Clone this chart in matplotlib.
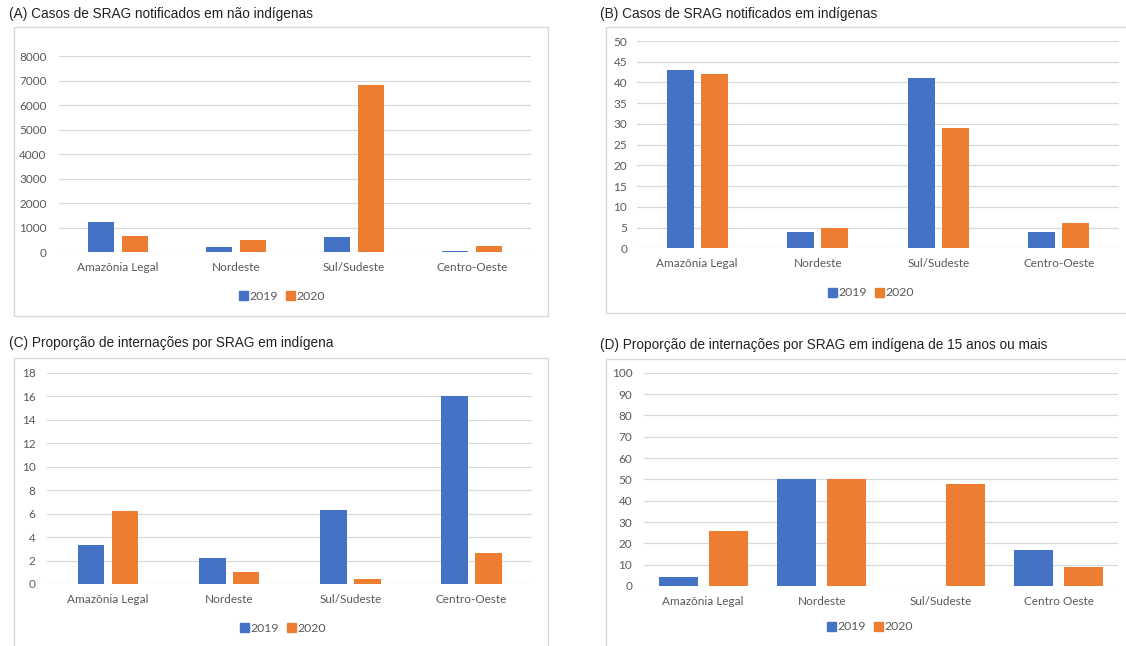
import matplotlib
matplotlib.use("Agg")
from matplotlib import pyplot as plt
from matplotlib.patches import Rectangle, Patch
import numpy as np

# dados por região
regioes = ['Amazônia Legal', 'Nordeste', 'Sul/Sudeste', 'Centro-Oeste']
regioes_d = ['Amazônia Legal', 'Nordeste', 'Sul/Sudeste', 'Centro Oeste']

nao_ind_2019 = [1230, 190, 610, 40]
nao_ind_2020 = [650, 490, 6800, 230]

ind_2019 = [43, 4, 41, 4]
ind_2020 = [42, 5, 29, 6]

intern_2019 = [3.3, 2.2, 6.3, 16.0]
intern_2020 = [6.2, 1.0, 0.4, 2.6]

intern15_2019 = [4.4, 50, 0, 17]
intern15_2020 = [26, 50, 48, 9]

anos = ['2019', '2020']

azul = '#4472C4'
laranja = '#ED7D31'
grade = '#D9D9D9'
cinza = '#595959'

W, H = 1126, 646
fig = plt.figure(figsize=(W / 100, H / 100), dpi=100)
fig.patch.set_facecolor('white')


def caixa(x0, y0, x1, y1):
    # retângulo em pixels (origem no topo)
    return [x0 / W, 1 - y1 / H, (x1 - x0) / W, (y1 - y0) / H]


def painel(titulo, tpos, moldura, area, cats, v19, v20, ymax, passo,
           largura, desloc, leg, pad_y):
    fig.text(tpos[0] / W, 1 - tpos[1] / H, titulo, family='Liberation Sans',
             fontsize=9.8, color='#222222', va='center', ha='left')
    r = caixa(*moldura)
    fig.patches.append(Rectangle((r[0], r[1]), r[2], r[3], transform=fig.transFigure,
                                 fill=False, edgecolor=grade, linewidth=1.0))
    ax = fig.add_axes(caixa(*area))
    x = np.arange(len(cats))
    ax.bar(x - desloc, v19, largura, color=azul, zorder=3)
    ax.bar(x + desloc, v20, largura, color=laranja, zorder=3)
    ax.set_xlim(-0.5, len(cats) - 0.5)
    ax.set_ylim(0, ymax)
    ax.set_yticks(np.arange(0, ymax + passo / 2, passo))
    ax.set_xticks(x)
    ax.set_xticklabels(cats)
    for s in ax.spines.values():
        s.set_visible(False)
    ax.yaxis.grid(True, color=grade, linewidth=0.9, zorder=0)
    ax.set_axisbelow(True)
    ax.tick_params(length=0, labelsize=8.5, labelcolor=cinza)
    ax.tick_params(axis='y', pad=pad_y)
    ax.tick_params(axis='x', pad=7)
    for t in ax.get_xticklabels() + ax.get_yticklabels():
        t.set_family('Lato')
    alcas = [Patch(color=azul), Patch(color=laranja)]
    fig.legend(alcas, anos, loc='center', ncol=2, frameon=False,
               bbox_to_anchor=(leg[0] / W, 1 - leg[1] / H),
               handlelength=0.75, handleheight=0.75, handletextpad=0.15,
               columnspacing=0.6, prop={'family': 'Lato', 'size': 8.8},
               labelcolor=cinza)
    return ax


painel('(A) Casos de SRAG notificados em não indígenas', (9, 14),
       (13.5, 27, 547.5, 316), (59, 56, 531, 252),
       regioes, nao_ind_2019, nao_ind_2020, 8000, 1000, 0.22, 0.145, (282, 296), 9)

painel('(B) Casos de SRAG notificados em indígenas', (600, 14),
       (605.5, 27, 1140, 313), (637, 41, 1119, 248.3),
       regioes, ind_2019, ind_2020, 50, 5, 0.224, 0.14, (871, 293), 7)

painel('(C) Proporção de internações por SRAG em indígena', (9, 343),
       (14, 358, 547.5, 660), (47.5, 372.7, 532, 584),
       regioes, intern_2019, intern_2020, 18, 2, 0.22, 0.14, (283, 628), 8.5)

painel('(D) Proporção de internações por SRAG em indígena de 15 anos ou mais', (600, 345),
       (605.5, 359, 1140, 660), (644, 372.7, 1118, 586),
       regioes_d, intern15_2019, intern15_2020, 100, 10, 0.33, 0.21, (870, 627), 8.5)

fig.savefig('out.png', dpi=100, facecolor='white')
